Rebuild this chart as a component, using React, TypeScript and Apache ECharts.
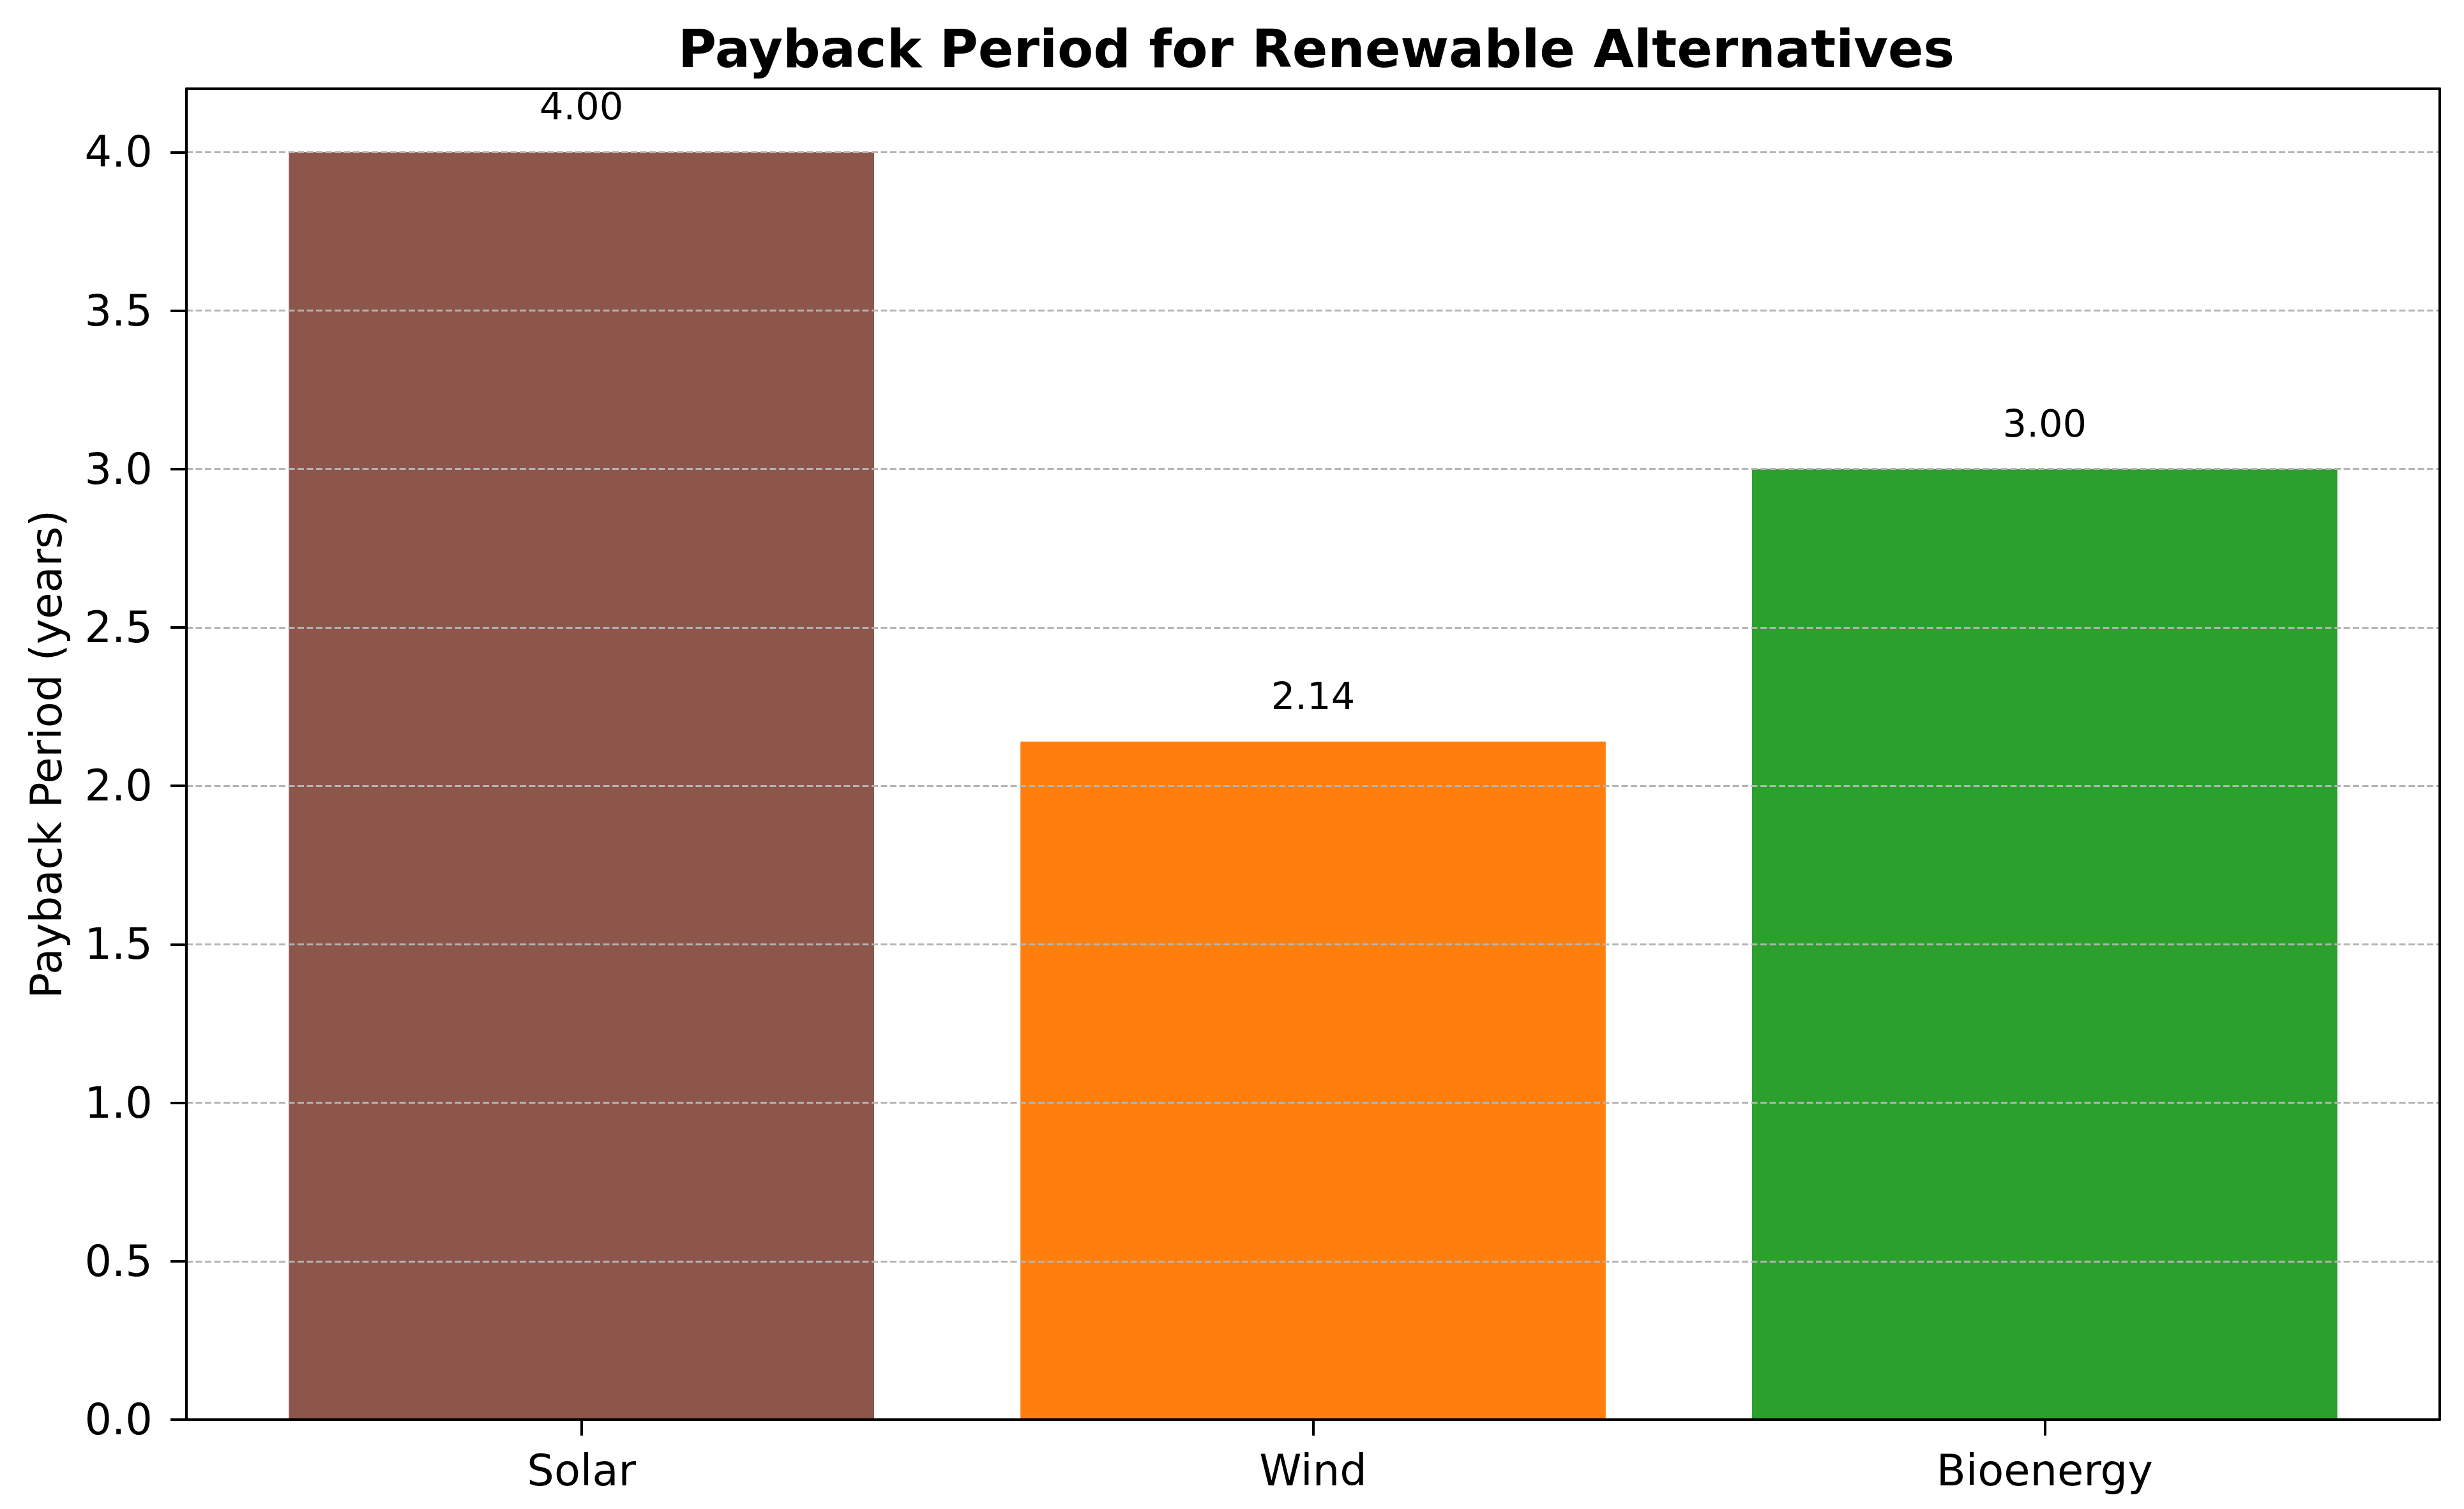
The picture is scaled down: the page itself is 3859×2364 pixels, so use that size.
import React, { useEffect, useRef } from "react";
import * as echarts from "echarts";

const categories = ["Solar", "Wind", "Bioenergy"];
const categoryPositions = [0, 1, 2];
const paybackYears = [4.0, 2.14, 3.0];
const barColors = ["#8c564b", "#ff7f0e", "#2ca02c"];
const yTickValues = [0, 0.5, 1.0, 1.5, 2.0, 2.5, 3.0, 3.5, 4.0];

const W = 3859;
const H = 2364;
const GRID = { left: 292, right: 38, top: 139, bottom: 140 };
const X_MIN = -0.54;
const X_MAX = 2.54;
const Y_MIN = 0;
const Y_MAX = 4.2;
const FONT = "DejaVu Sans";

export default function App() {
  const ref = useRef<HTMLDivElement>(null);

  useEffect(() => {
    document.body.style.margin = "0";
    if (!ref.current) return;
    const chart = echarts.init(ref.current, null, { renderer: "svg" });
    const plotWidth = W - GRID.left - GRID.right;
    const barWidth = (0.8 * plotWidth) / (X_MAX - X_MIN);

    const frameAxisLine = { show: true, onZero: false, lineStyle: { color: "#000", width: 4 } };

    chart.setOption({
      animation: false,
      backgroundColor: "#fff",
      title: {
        text: "Payback Period for Renewable Alternatives",
        left: GRID.left + plotWidth / 2,
        top: 30,
        textAlign: "center",
        textStyle: { fontSize: 82, fontWeight: "bold", fontFamily: FONT, color: "#000" },
      },
      grid: { ...GRID, containLabel: false },
      xAxis: [
        {
          type: "value",
          min: X_MIN,
          max: X_MAX,
          z: 4,
          axisLine: frameAxisLine,
          axisTick: {
            show: true,
            customValues: categoryPositions,
            length: 25,
            lineStyle: { color: "#000", width: 4 },
          },
          axisLabel: {
            show: true,
            customValues: categoryPositions,
            formatter: (v: number) => categories[Math.round(v)] ?? "",
            margin: 46,
            fontSize: 67,
            fontFamily: FONT,
            color: "#000",
          },
          splitLine: { show: false },
        },
        {
          type: "value",
          position: "top",
          min: X_MIN,
          max: X_MAX,
          z: 4,
          axisLine: frameAxisLine,
          axisTick: { show: false },
          axisLabel: { show: false },
          splitLine: { show: false },
        },
      ],
      yAxis: [
        {
          type: "value",
          min: Y_MIN,
          max: Y_MAX,
          interval: 0.5,
          z: 3,
          name: "Payback Period (years)",
          nameLocation: "middle",
          nameGap: 186,
          nameTextStyle: { fontSize: 67, fontFamily: FONT, color: "#000" },
          axisLine: frameAxisLine,
          axisTick: {
            show: true,
            customValues: yTickValues,
            length: 25,
            lineStyle: { color: "#000", width: 4 },
          },
          axisLabel: {
            show: true,
            customValues: yTickValues,
            formatter: (v: number) => v.toFixed(1),
            margin: 53,
            fontSize: 67,
            fontFamily: FONT,
            color: "#000",
          },
          splitLine: {
            show: true,
            lineStyle: { type: [10, 4.5], color: "#b4b4b4", width: 2.8 },
          },
        },
        {
          type: "value",
          position: "right",
          min: Y_MIN,
          max: Y_MAX,
          z: 4,
          axisLine: frameAxisLine,
          axisTick: { show: false },
          axisLabel: { show: false },
          splitLine: { show: false },
        },
      ],
      series: [
        {
          type: "bar",
          z: 2,
          barWidth,
          data: categoryPositions.map((x, i) => ({
            value: [x, paybackYears[i]],
            itemStyle: { color: barColors[i] },
          })),
          label: {
            show: true,
            position: "top",
            distance: 42,
            formatter: (p: any) => Number(p.value[1]).toFixed(2),
            fontSize: 59,
            fontFamily: FONT,
            color: "#000",
          },
        },
      ],
    });

    return () => chart.dispose();
  }, []);

  return <div ref={ref} style={{ width: W, height: H }} />;
}
